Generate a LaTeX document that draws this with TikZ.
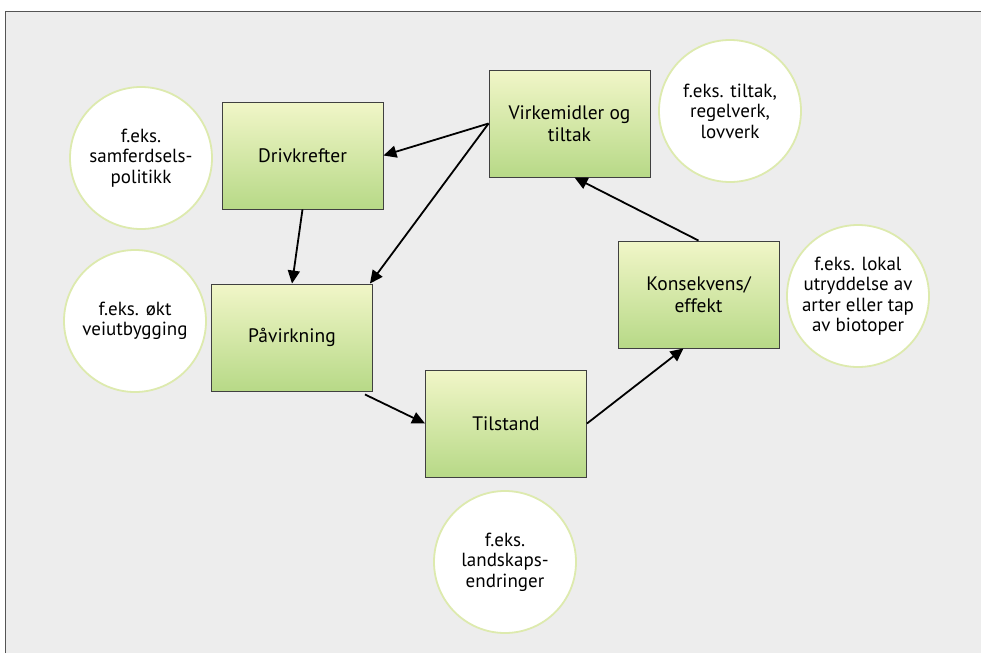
\documentclass[tikz,border=0pt]{standalone}
\usepackage{fontspec}
\setmainfont{PT Sans}
\usetikzlibrary{arrows.meta,calc}
\definecolor{bggrey}{HTML}{EDEDED}
\definecolor{framegrey}{HTML}{555555}
\definecolor{boxtop}{HTML}{F1F6C8}
\definecolor{boxbot}{HTML}{B7D987}
\definecolor{boxedge}{HTML}{404040}
\definecolor{ringgreen}{HTML}{DDEAAE}
\tikzset{
  stepbox/.style={draw=boxedge, line width=0.9pt, top color=boxtop, bottom color=boxbot,
    minimum width=161pt, minimum height=107pt, inner sep=0pt, align=center,
    font=\fontsize{19.5}{22}\selectfont},
  note/.style={circle, draw=ringgreen, line width=1.8pt, fill=white, minimum size=142pt,
    inner sep=0pt, align=center, font=\fontsize{19}{20.5}\selectfont},
  flow/.style={line width=1.8pt, -{Triangle[length=13pt,width=12pt]}}
}
\begin{document}
\begin{tikzpicture}[x=1pt,y=-1pt]
\useasboundingbox (0,0) rectangle (981,653);
\fill[white] (0,0) rectangle (981,653);
\fill[bggrey] (5.5,11) rectangle (981,653);
\draw[framegrey, line width=1pt] (5.5,653) -- (5.5,11) -- (981,11);

% circles
\node[note] (c1) at (141,158) {f.eks.\\samferdsels-\\politikk};
\node[note] (c2) at (730,111) {f.eks. tiltak,\\regelverk,\\lovverk};
\node[note] (c3) at (858,296) {f.eks. lokal\\utryddelse av\\arter eller tap\\av biotoper};
\node[note] (c4) at (135,321) {f.eks. økt\\veiutbygging};
\node[note] (c5) at (505,562) {f.eks.\\landskaps-\\endringer};

% boxes
\node[stepbox] (driv) at (302.5,155.5) {Drivkrefter};
\node[stepbox] (vir) at (569.5,123.5) {Virkemidler og\\tiltak};
\node[stepbox] (pav) at (292,337.5) {Påvirkning};
\node[stepbox] (til) at (506,423.5) {Tilstand};
\node[stepbox] (kon) at (698.5,294.5) {Konsekvens/\\effekt};

% connectors
\draw[flow] (vir.west) -- (driv.east);
\draw[flow] (vir.west) -- ($(pav.north east)+(-3,0)$);
\draw[flow] (driv.south) -- (pav.north);
\draw[flow] ($(pav.south east)+(-8,3)$) -- (til.west);
\draw[flow] (til.east) -- ($(kon.south)+(-15,0)$);
\draw[flow] (kon.north) -- ($(vir.south)+(5,0)$);
\end{tikzpicture}
\end{document}
